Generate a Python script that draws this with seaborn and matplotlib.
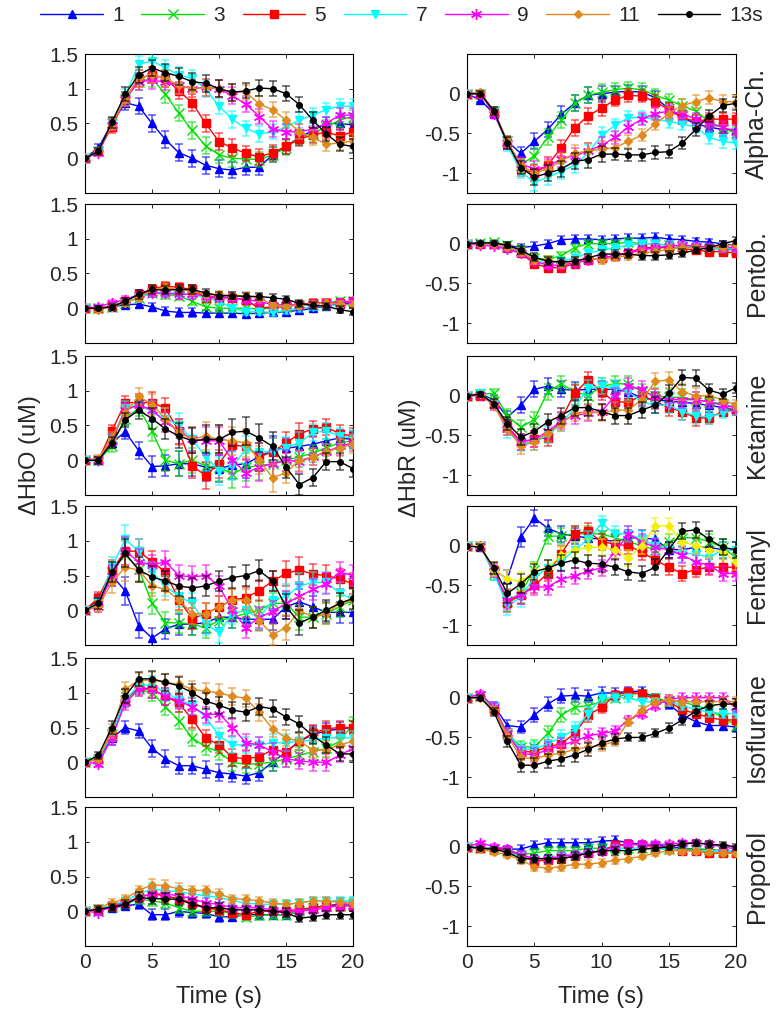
import numpy as np
import matplotlib
matplotlib.use("Agg")
import matplotlib.pyplot as plt
from matplotlib.lines import Line2D
import seaborn as sns

# time axis and legend labels
time_s = np.arange(21)
doses = ['1', '3', '5', '7', '9', '11', '13s']
drugs = ['Alpha-Ch.', 'Pentob.', 'Ketamine', 'Fentanyl', 'Isoflurane', 'Propofol']

# --- HbO responses (one row per stimulus duration: 1,3,5,7,9,11,13s) ---
alpha_hbo = [
    [0, .15, .5, .8, .75, .5, .27, .08, 0, -.1, -.15, -.17, -.13, -.13, .05, .17, .3, .4, .5, .5, .48],
    [0, .1, .5, .85, 1.1, 1.15, .92, .65, .4, .18, .05, 0, -.01, -.02, .05, .15, .3, .35, .45, .55, .6],
    [0, .1, .45, .85, 1.15, 1.2, 1.15, .97, .8, .5, .24, .15, .07, .02, .08, .17, .28, .33, .38, .32, .38],
    [0, .1, .5, .9, 1.35, 1.4, 1.3, 1.2, 1.15, 1.0, .75, .56, .43, .35, .38, .45, .55, .62, .7, .75, .75],
    [0, .08, .48, .85, 1.1, 1.12, 1.1, 1.05, 1.0, 1.02, 1.0, .9, .78, .6, .42, .38, .38, .42, .5, .62, .62],
    [0, .1, .48, .85, 1.15, 1.2, 1.15, 1.05, 1.0, 1.02, 1.0, .95, .95, .78, .7, .55, .38, .3, .2, .22, .25],
    [0, .1, .52, .92, 1.2, 1.3, 1.23, 1.18, 1.1, 1.08, 1.0, .95, .97, 1.01, 1.0, .93, .77, .55, .35, .2, .17],
]
pentob_hbo = [
    [0, 0, .02, .05, .06, .02, -.04, -.06, -.06, -.07, -.07, -.07, -.08, -.07, -.06, -.05, -.03, 0, .03, .06, .08],
    [0, 0, .02, .08, .15, .22, .2, .18, .1, .02, 0, 0, 0, -.01, 0, .02, .05, .05, .08, .1, .1],
    [0, 0, .03, .1, .2, .28, .32, .3, .27, .15, .15, .15, .12, 0, .02, .05, .05, .08, .08, .08, .1],
    [0, 0, .02, .08, .15, .22, .22, .22, .2, .15, .1, 0, -.05, -.05, -.06, -.03, 0, .02, .03, .05, .05],
    [0, .02, .08, .12, .2, .22, .22, .2, .2, .18, .16, .15, .12, .1, .05, .05, .05, .06, .08, .08, .1],
    [0, -.02, .02, .08, .15, .27, .3, .27, .25, .2, .2, .18, .18, .15, .05, .03, .05, .06, .08, .06, .05],
    [0, 0, .02, .1, .2, .27, .26, .27, .27, .22, .18, .18, .17, .17, .15, .13, .07, .04, .03, -.02, -.05],
]
ketamine_hbo = [
    [0, 0, .25, .41, .14, -.09, -.08, -.05, -.05, -.1, -.12, -.07, -.05, .05, .15, .17, .2, .23, .28, .32, .3],
    [0, 0, .2, .6, .75, .42, 0, -.05, 0, -.08, -.1, -.2, -.1, -.08, -.05, 0, .05, .1, .18, .25, .28],
    [0, 0, .42, .83, .83, .83, .75, .42, -.08, -.22, -.05, .22, .2, .05, .12, .25, .38, .45, .48, .38, .35],
    [0, -.02, .3, .75, .8, .7, .6, .5, .3, .05, -.15, -.08, .15, .12, .12, .18, .25, .4, .42, .35, .32],
    [0, 0, .28, .72, .8, .72, .55, .42, .3, .28, .28, 0, -.18, -.1, -.05, 0, -.02, .05, .12, .2, .25],
    [0, .02, .32, .68, .92, .8, .6, .4, .3, .35, .3, .28, .25, 0, -.25, -.18, 0, .05, .12, .18, .23],
    [0, 0, .25, .58, .72, .6, .45, .35, .28, .3, .3, .4, .42, .32, .2, -.1, -.35, -.25, -.02, -.02, -.12],
]
fentanyl_hbo = [
    [0, .15, .5, .28, -.22, -.4, -.27, -.2, -.2, -.18, -.1, -.1, -.13, -.13, -.13, .05, .12, .05, -.03, -.03, -.03],
    [0, .12, .55, .8, .6, .1, -.18, -.18, -.2, -.25, -.15, -.1, -.05, 0, .1, .1, -.1, -.1, -.05, .05, .15],
    [0, .18, .58, .85, .85, .7, .55, .15, -.12, -.05, .05, .15, .18, .28, .42, .53, .58, .52, .5, .45, .38],
    [0, .1, .62, 1.02, .85, .55, .35, .2, .1, -.2, -.32, -.05, 0, -.12, .15, .2, .35, .4, .4, .25, .15],
    [0, .05, .5, .85, .7, .65, .7, .5, .48, .5, .35, 0, -.25, -.1, -.02, .1, .2, .3, .38, .55, .5],
    [0, .05, .4, .62, .58, .35, .3, .15, -.05, -.05, .05, .15, .15, -.15, -.35, -.25, 0, -.1, -.05, .1, .15],
    [0, .1, .55, .82, .58, .48, .42, .35, .32, .35, .42, .47, .5, .57, .42, .05, -.18, -.1, 0, .1, .17],
]
isoflurane_hbo = [
    [0, .05, .35, .5, .45, .2, .05, -.05, -.05, -.1, -.15, -.17, -.2, -.15, 0, .15, .3, .4, .45, .48, .5],
    [0, .05, .4, .9, 1.05, 1.0, .8, .6, .35, .22, .15, 0, -.03, -.02, 0, .05, .1, .15, .2, .3, .55],
    [0, .05, .4, .9, 1.08, 1.05, .95, .85, .62, .35, .25, .07, .05, .08, .18, .15, .3, .42, .48, .5, .5],
    [0, .05, .4, .9, 1.1, 1.12, 1.0, .9, .82, .65, .38, .25, .25, .25, .28, .28, .3, .32, .35, .35, .35],
    [0, -.02, .35, .85, 1.05, 1.05, .95, .88, .8, .68, .7, .5, .28, .25, .15, .05, .02, 0, 0, .1, .2],
    [0, .05, .45, 1.05, 1.18, 1.18, 1.15, 1.12, 1.05, 1.02, 1.0, .95, .92, .72, .48, .35, .3, .18, .18, .25, .3],
    [0, .1, .5, .95, 1.2, 1.2, 1.15, 1.1, 1.0, .88, .82, .75, .72, .8, .77, .65, .55, .38, .25, .12, .12],
]
propofol_hbo = [
    [0, .02, .05, .08, .1, -.05, -.05, 0, -.02, -.03, -.08, -.08, -.05, -.05, -.05, -.05, 0, .05, .08, .1, .1],
    [0, .03, .06, .1, .18, .15, .12, .05, 0, 0, 0, -.03, -.08, -.06, -.05, -.05, 0, .05, .08, .08, .1],
    [0, .03, .08, .12, .2, .25, .22, .18, .12, .05, .02, -.02, -.05, 0, 0, 0, .03, .05, .08, .08, .08],
    [0, .03, .08, .15, .25, .32, .3, .28, .25, .22, .2, .15, .12, .1, .1, .1, .12, .15, .15, .15, .15],
    [0, -.02, .08, .12, .2, .25, .25, .22, .18, .12, .1, .05, .05, .05, .02, 0, 0, .02, .05, .08, .08],
    [0, .05, .12, .18, .3, .38, .37, .32, .3, .3, .25, .18, .17, .15, .12, .1, .12, .15, .15, .13, .12],
    [0, .03, .06, .1, .2, .18, .18, .17, .1, .05, .05, .02, .02, .02, 0, -.02, -.1, -.08, -.05, -.05, -.05],
]

# --- HbR responses ---
alpha_hbr = [
    [0, -.08, -.25, -.6, -.75, -.6, -.45, -.26, -.12, -.02, 0, .02, .03, .02, -.05, -.19, -.3, -.38, -.42, -.45, -.45],
    [0, 0, -.22, -.6, -.9, -.78, -.55, -.33, -.12, -.02, .02, .05, .07, .05, -.02, -.08, -.15, -.22, -.35, -.43, -.5],
    [0, 0, -.22, -.62, -.95, -1.0, -.9, -.68, -.43, -.28, -.18, -.08, -.02, -.03, -.1, -.2, -.3, -.35, -.32, -.32, -.32],
    [0, 0, -.22, -.65, -.98, -1.12, -1.05, -.98, -.9, -.75, -.52, -.4, -.3, -.3, -.32, -.35, -.38, -.42, -.55, -.6, -.62],
    [0, 0, -.25, -.62, -.88, -.95, -.92, -.82, -.78, -.72, -.65, -.55, -.42, -.32, -.25, -.22, -.25, -.32, -.38, -.42, -.48],
    [0, .02, -.22, -.6, -.9, -1.0, -.95, -.85, -.75, -.72, -.7, -.68, -.6, -.52, -.38, -.25, -.15, -.1, -.05, -.1, -.1],
    [0, 0, -.22, -.62, -.93, -1.05, -1.0, -.95, -.85, -.83, -.76, -.76, -.77, -.77, -.74, -.73, -.62, -.45, -.28, -.15, -.12],
]
pentob_hbr = [
    [0, .01, .01, -.02, -.05, -.03, 0, .05, .06, .06, .05, .06, .07, .07, .08, .06, .05, .03, .02, 0, -.02],
    [0, .01, .02, -.02, -.08, -.18, -.2, -.15, -.05, 0, 0, 0, .02, 0, 0, -.02, -.03, -.05, -.06, -.07, -.08],
    [0, 0, 0, -.05, -.12, -.25, -.3, -.3, -.25, -.2, -.18, -.15, -.12, -.05, -.05, -.05, -.06, -.08, -.1, -.1, -.12],
    [0, 0, 0, -.05, -.1, -.2, -.25, -.22, -.18, -.12, -.08, -.05, -.02, 0, 0, -.02, -.03, -.03, -.05, -.06, -.06],
    [0, -.02, -.03, -.07, -.12, -.22, -.27, -.27, -.24, -.2, -.18, -.15, -.12, -.08, -.05, -.03, -.02, -.03, -.04, -.05, -.05],
    [0, 0, 0, -.04, -.1, -.2, -.2, -.25, -.22, -.18, -.2, -.17, -.15, -.12, -.1, -.07, -.05, -.05, -.05, -.04, 0],
    [0, .01, .01, -.02, -.08, -.17, -.22, -.23, -.22, -.18, -.13, -.13, -.13, -.15, -.15, -.14, -.12, -.08, -.05, 0, .04],
]
ketamine_hbr = [
    [0, .02, -.05, -.27, -.12, .08, .12, .08, .07, .08, .08, .08, .05, -.03, -.05, -.07, -.08, -.1, -.12, -.15, -.18],
    [0, .02, .03, -.25, -.4, -.3, .05, .15, .05, 0, .12, .15, .15, .05, 0, -.02, -.02, -.05, -.08, -.1, -.15],
    [0, 0, -.1, -.38, -.58, -.55, -.53, -.3, .03, .2, .05, -.08, -.08, 0, -.07, -.15, -.2, -.28, -.28, -.2, -.18],
    [0, .03, -.1, -.45, -.6, -.58, -.5, -.35, -.15, .1, .12, .1, .05, -.08, -.12, -.12, -.2, -.25, -.27, -.22, -.18],
    [0, .01, -.12, -.42, -.58, -.55, -.45, -.32, -.25, -.22, -.2, 0, .12, .08, -.02, -.05, -.05, -.05, -.08, -.12, -.15],
    [0, .02, -.12, -.42, -.63, -.58, -.47, -.35, -.22, -.2, -.22, -.18, -.18, -.05, .18, .2, .05, 0, 0, -.05, -.12],
    [0, .02, -.1, -.35, -.52, -.45, -.33, -.25, -.15, -.15, -.2, -.25, -.25, -.18, -.12, .03, .23, .22, .07, .02, .1],
]
fentanyl_hbr = [
    [0, -.02, -.3, -.42, .11, .35, .22, .15, .12, .1, .08, .05, .1, .1, .08, -.05, -.05, -.02, -.02, -.05, -.05],
    [0, 0, -.35, -.7, -.6, -.3, .12, .12, .15, .15, .15, .1, .05, 0, -.05, .05, .1, .1, .05, -.02, -.15],
    [0, 0, -.3, -.72, -.62, -.5, -.35, -.1, .15, .18, .05, .02, 0, -.08, -.18, -.27, -.35, -.3, -.27, -.27, -.27],
    [0, 0, -.35, -.75, -.65, -.4, -.28, -.2, -.05, .08, .28, .15, .15, .08, 0, -.05, -.1, -.1, -.15, -.05, -.05],
    [0, 0, -.32, -.68, -.62, -.52, -.52, -.42, -.38, -.32, -.28, -.08, .15, .05, -.02, -.05, -.12, -.2, -.25, -.35, -.35],
    [0, 0, -.3, -.42, -.45, -.32, -.28, -.12, -.05, -.02, -.02, -.05, -.15, 0, .25, .25, .05, 0, -.05, -.08, -.2],
    [0, -.02, -.28, -.6, -.48, -.33, -.28, -.22, -.18, -.22, -.23, -.27, -.33, -.35, -.27, -.05, .18, .2, .08, -.02, -.05],
]
isoflurane_hbr = [
    [0, .02, -.1, -.35, -.37, -.22, -.08, .02, .03, .02, .06, .06, .08, .08, 0, -.08, -.22, -.3, -.35, -.35, -.37],
    [0, .02, -.12, -.45, -.62, -.62, -.45, -.22, -.12, -.1, -.05, 0, .05, .05, 0, -.05, -.05, -.1, -.15, -.25, -.35],
    [0, .02, -.15, -.45, -.68, -.68, -.62, -.58, -.45, -.22, -.12, .03, .07, .05, -.02, -.05, -.15, -.2, -.25, -.28, -.28],
    [0, .02, -.12, -.45, -.65, -.65, -.58, -.5, -.4, -.2, 0, 0, 0, -.05, -.05, -.05, -.1, -.15, -.18, -.2, -.2],
    [0, .05, -.12, -.45, -.7, -.72, -.65, -.6, -.55, -.48, -.45, -.42, -.28, -.2, -.1, -.02, 0, 0, 0, 0, -.12],
    [0, 0, -.15, -.48, -.75, -.77, -.72, -.7, -.65, -.62, -.6, -.55, -.3, -.15, -.05, -.03, -.05, -.05, -.05, -.05, -.05],
    [0, 0, -.18, -.55, -.85, -.85, -.8, -.77, -.72, -.65, -.57, -.52, -.5, -.5, -.45, -.38, -.28, -.17, -.1, -.08, -.08],
]
propofol_hbr = [
    [0, -.02, -.02, -.03, -.03, .02, .05, .05, .05, .05, .07, .08, .05, .03, .02, 0, -.02, -.03, -.05, -.05, -.05],
    [0, -.02, -.03, -.05, -.1, -.08, -.05, -.05, -.05, -.02, -.02, -.02, -.02, -.02, -.02, -.03, -.03, -.03, -.03, -.05, -.05],
    [0, -.02, -.03, -.05, -.12, -.18, -.17, -.15, -.12, -.08, -.05, .02, .03, .02, 0, -.02, -.05, -.05, -.08, -.08, -.08],
    [0, -.02, -.03, -.07, -.12, -.15, -.15, -.12, -.1, -.07, -.05, -.03, -.02, -.02, -.03, -.03, -.05, -.05, -.05, -.05, -.05],
    [0, .05, 0, -.03, -.1, -.15, -.15, -.12, -.1, -.08, -.05, 0, .03, .03, .03, .03, .05, .05, .03, 0, -.03],
    [0, -.03, -.07, -.1, -.17, -.25, -.27, -.25, -.22, -.22, -.2, -.17, -.15, -.12, -.08, -.05, -.05, -.05, -.07, -.08, -.08],
    [0, -.02, -.03, -.07, -.15, -.15, -.15, -.15, -.12, -.08, -.05, -.05, -.05, -.03, -.02, 0, .03, .05, .03, .02, 0],
]

# standard error (shared by all series of a panel)
alpha_hbo_err = [0, .05, .08, .1, .12, .12, .12, .12, .12, .12, .12, .12, .11, .11, .11, .11, .11, .11, .1, .1, .1]
pentob_hbo_err = [0, .03, .04, .05, .06, .06, .06, .06, .06, .05, .05, .05, .05, .05, .05, .05, .05, .05, .05, .05, .05]
ketamine_hbo_err = [0, .05, .08, .1, .12, .15, .15, .18, .18, .2, .2, .2, .2, .2, .2, .15, .15, .12, .12, .12, .12]
fentanyl_hbo_err = [0, .08, .15, .2, .18, .15, .15, .15, .15, .15, .15, .15, .15, .15, .15, .18, .18, .15, .15, .15, .15]
isoflurane_hbo_err = [0, .05, .1, .1, .1, .12, .12, .12, .12, .12, .12, .12, .12, .12, .12, .12, .12, .12, .12, .1, .1]
propofol_hbo_err = [0, .04, .05, .06, .07, .08, .08, .08, .07, .07, .07, .06, .06, .06, .06, .06, .06, .06, .06, .06, .06]
alpha_hbr_err = [0, .03, .05, .07, .08, .1, .1, .1, .1, .1, .1, .08, .08, .08, .08, .08, .08, .08, .08, .08, .08]
pentob_hbr_err = [0, .02, .03, .04, .05, .05, .05, .05, .05, .05, .05, .05, .05, .05, .05, .05, .05, .04, .04, .04, .04]
ketamine_hbr_err = [0, .03, .06, .08, .1, .1, .1, .1, .1, .1, .1, .1, .1, .1, .1, .1, .1, .1, .08, .06, .06]
fentanyl_hbr_err = [0, .04, .08, .12, .12, .1, .1, .1, .1, .1, .1, .1, .1, .1, .1, .1, .1, .1, .1, .1, .1]
isoflurane_hbr_err = [0, .03, .05, .07, .08, .09, .09, .09, .09, .08, .07, .06, .05, .05, .05, .06, .06, .06, .06, .06, .06]
propofol_hbr_err = [0, .02, .03, .04, .05, .05, .05, .05, .05, .05, .05, .05, .04, .04, .04, .04, .04, .04, .04, .04, .04]

hbo_sets = [alpha_hbo, pentob_hbo, ketamine_hbo, fentanyl_hbo, isoflurane_hbo, propofol_hbo]
hbr_sets = [alpha_hbr, pentob_hbr, ketamine_hbr, fentanyl_hbr, isoflurane_hbr, propofol_hbr]
hbo_errs = [alpha_hbo_err, pentob_hbo_err, ketamine_hbo_err, fentanyl_hbo_err, isoflurane_hbo_err, propofol_hbo_err]
hbr_errs = [alpha_hbr_err, pentob_hbr_err, ketamine_hbr_err, fentanyl_hbr_err, isoflurane_hbr_err, propofol_hbr_err]

colors = ['#0000ff', '#00e000', '#ff0000', '#00ffff', '#ff00ff', '#e08a1e', '#000000']
markers = ['^', 'x', 's', 'v', (6, 2, 0), 'D', 'o']
msizes = [5.5, 6.5, 5.5, 5.5, 8, 4, 4]

sns.set_style('ticks')
plt.rcParams['font.family'] = ['Liberation Sans', 'DejaVu Sans']


def draw_panel(ax, series, err, cols):
    for k, vals in enumerate(series):
        c = cols[k]
        ax.errorbar(time_s, vals, yerr=err, fmt='none', ecolor=c, alpha=0.65,
                    capsize=3, elinewidth=1.1, capthick=1.1, zorder=2 + 2 * k)
        sns.lineplot(x=time_s, y=vals, color=c, marker=markers[k], markersize=msizes[k],
                     markeredgecolor=c, markeredgewidth=1, linewidth=1, ax=ax,
                     zorder=3 + 2 * k)
    ax.set_xlim(0, 20)
    ax.set_xticks([0, 5, 10, 15, 20])
    ax.tick_params(direction='in', length=3, width=0.7, top=True, right=True,
                   labelsize=15, pad=5)
    for sp in ax.spines.values():
        sp.set_linewidth(0.8)
        sp.set_color('black')
    ax.set_xlabel('')
    ax.set_ylabel('')


fig = plt.figure(figsize=(7.8, 10.22), dpi=100)
W, H = 780, 1022
row_tops = [54, 204, 356, 506, 658, 807]
ph = 139

for i, drug in enumerate(drugs):
    y0 = 1 - (row_tops[i] + ph) / H
    axl = fig.add_axes([85 / W, y0, 268 / W, ph / H])
    axr = fig.add_axes([467 / W, y0, 269 / W, ph / H])

    draw_panel(axl, hbo_sets[i], hbo_errs[i], colors)
    axl.set_ylim(-0.5, 1.5)
    axl.set_yticks([0, 0.5, 1, 1.5])
    half = '.5' if drug == 'Fentanyl' else '0.5'
    axl.set_yticklabels(['0', half, '1', '1.5'])

    cols_r = list(colors)
    if drug == 'Fentanyl':
        cols_r[5] = '#f0f000'
    draw_panel(axr, hbr_sets[i], hbr_errs[i], cols_r)
    axr.set_ylim(-1.25, 0.5)
    axr.set_yticks([-1, -0.5, 0])
    axr.set_yticklabels(['-1', '-0.5', '0'])

    fig.text(757 / W, 1 - (row_tops[i] + ph / 2) / H, drug, rotation=90,
             ha='center', va='center', fontsize=18)

    if i < len(drugs) - 1:
        axl.set_xticklabels([])
        axr.set_xticklabels([])
    else:
        for ax in (axl, axr):
            ax.set_xticklabels(['0', '5', '10', '15', '20'])
            ax.set_xlabel('Time (s)', fontsize=17, labelpad=10)

fig.text(30 / W, 1 - 455 / H, 'ΔHbO (uM)', rotation=90, ha='center', va='center', fontsize=17)
fig.text(410 / W, 1 - 458 / H, 'ΔHbR (uM)', rotation=90, ha='center', va='center', fontsize=17)

handles = [Line2D([0], [0], color=colors[k], marker=markers[k], markersize=msizes[k],
                  markeredgecolor=colors[k], linewidth=1) for k in range(len(doses))]
fig.legend(handles, doses, loc='center', bbox_to_anchor=(0.515, 0.985), ncol=7,
           frameon=False, fontsize=15, handlelength=3.0, handletextpad=0.45,
           columnspacing=0.85)

fig.savefig('out.png', dpi=100)
